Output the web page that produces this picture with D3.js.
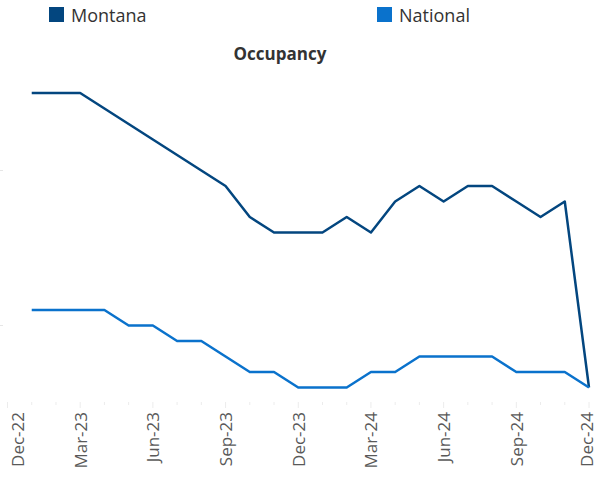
<!DOCTYPE html>
<html>
<head>
<meta charset="utf-8">
<script src="https://cdn.jsdelivr.net/npm/d3@7"></script>
<style>
  body { margin: 0; background: #fff; font-family: "Open Sans", "Noto Sans", sans-serif; }
  svg { display: block; }
</style>
</head>
<body>
<svg id="chart" width="597" height="478"></svg>
<script>
// Monthly data, Jan-23 .. Dec-24 (Dec-22 has no value)
var months = ["Jan-23","Feb-23","Mar-23","Apr-23","May-23","Jun-23","Jul-23","Aug-23","Sep-23","Oct-23","Nov-23","Dec-23",
              "Jan-24","Feb-24","Mar-24","Apr-24","May-24","Jun-24","Jul-24","Aug-24","Sep-24","Oct-24","Nov-24","Dec-24"];
var montana = [75,75,75,74,73,72,71,70,69,67,66,66,66,67,66,68,69,68,69,69,68,67,68,56];
var national = [61,61,61,61,60,60,59,59,58,57,57,56,56,56,57,57,58,58,58,58,57,57,57,56];
var tickLabels = ["Dec-22","Mar-23","Jun-23","Sep-23","Dec-23","Mar-24","Jun-24","Sep-24","Dec-24"];
var yTicks = [60, 70];

var seriesNames = ["Montana", "National"];
var colors = { "Montana": "#03467f", "National": "#0a72cc" };

var svg = d3.select("#chart");

// x uses month index: 0 = Dec-22, 24 = Dec-24
var xScale = d3.scaleLinear().domain([0, 24]).range([7.5, 589]);
var yScale = d3.scaleLinear().domain([55, 80]).range([403, 15.5]);

// y ticks (faint, mostly cut off at the left edge)
svg.append("g")
    .selectAll("line")
    .data(yTicks)
    .enter()
    .append("line")
    .attr("x1", 0).attr("x2", 3)
    .attr("y1", d => yScale(d)).attr("y2", d => yScale(d))
    .style("stroke", "#e6e6e6");

// x ticks: monthly minor, quarterly major
var xTicks = d3.range(0, 25);
svg.append("g")
    .selectAll("line")
    .data(xTicks)
    .enter()
    .append("line")
    .attr("x1", d => xScale(d)).attr("x2", d => xScale(d))
    .attr("y1", 402).attr("y2", d => d % 3 === 0 ? 408 : 405)
    .style("stroke", "#ececec");

// x labels, rotated (end ones kept inside the frame)
svg.append("g")
    .selectAll("text")
    .data(tickLabels)
    .enter()
    .append("text")
    .attr("transform", (d, i) => "translate(" + Math.min(Math.max(xScale(i * 3), 17) + 6.5, 593) + ",412) rotate(-90)")
    .attr("text-anchor", "end")
    .style("font-size", "17px")
    .style("fill", "#595959")
    .text(d => d);

// lines
var line = d3.line()
    .x((d, i) => xScale(i + 1))
    .y(d => yScale(d));

[["Montana", montana], ["National", national]].forEach(function(s) {
    svg.append("path")
        .datum(s[1])
        .attr("d", line)
        .style("fill", "none")
        .style("stroke", colors[s[0]])
        .style("stroke-width", 2.5)
        .style("stroke-linejoin", "round");
});

// title
svg.append("text")
    .attr("x", 280)
    .attr("y", 60)
    .attr("text-anchor", "middle")
    .style("font-size", "17px")
    .style("font-weight", "bold")
    .style("fill", "#333")
    .text("Occupancy");

// legend
var legendX = [49, 377];
var legend = svg.append("g")
    .selectAll("g")
    .data(seriesNames)
    .enter()
    .append("g")
    .attr("transform", (d, i) => "translate(" + legendX[i] + ",7)");

legend.append("rect")
    .attr("width", 15).attr("height", 15)
    .style("fill", d => colors[d]);

legend.append("text")
    .attr("x", 22)
    .attr("y", 14.5)
    .style("font-size", "18px")
    .style("fill", "#333")
    .text(d => d);
</script>
</body>
</html>
